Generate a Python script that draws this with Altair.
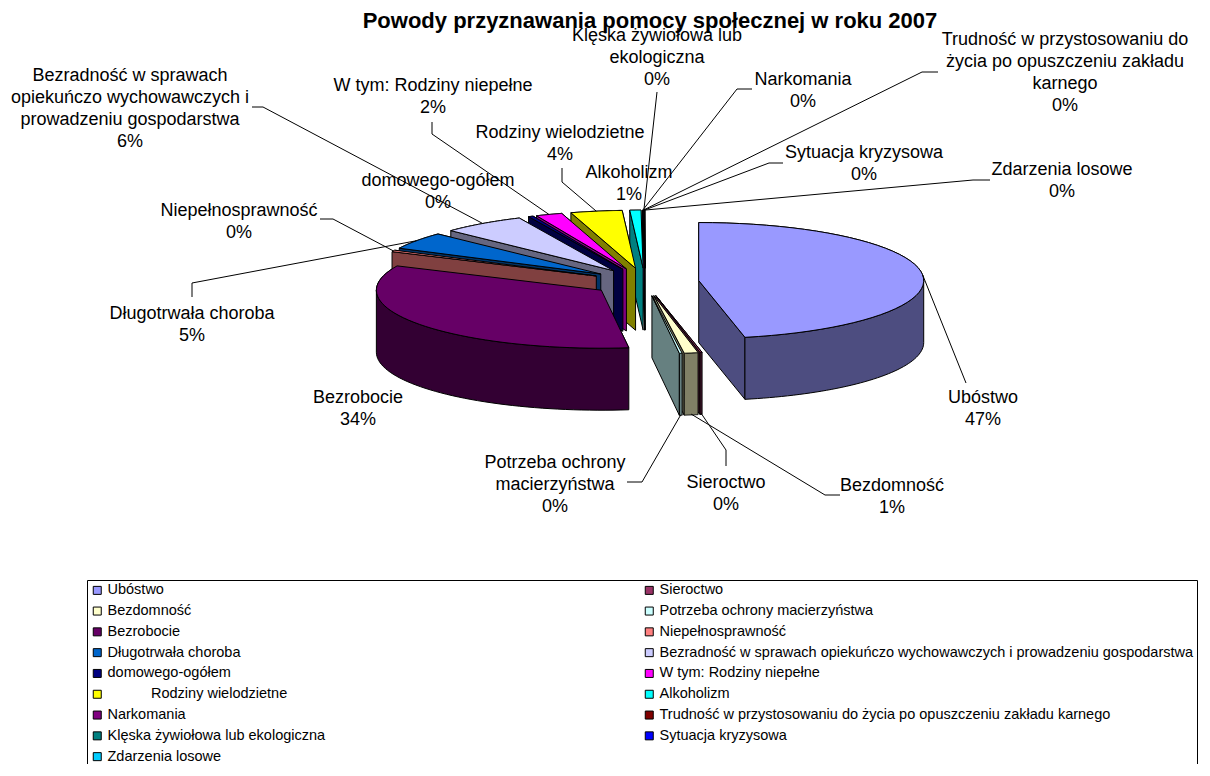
import math
import altair as alt
import pandas as pd

ZW = "\u200b"
EM = "\u2003"

# ---------------- data ----------------
names = [
    "Ubóstwo",
    "Sieroctwo",
    "Bezdomność",
    "Potrzeba ochrony macierzyństwa",
    "Bezrobocie",
    "Niepełnosprawność",
    "Długotrwała choroba",
    "Bezradność w sprawach opiekuńczo wychowawczych i prowadzeniu gospodarstwa",
    "domowego-ogółem",
    "W tym: Rodziny niepełne",
    ZW + EM * 3 + "Rodziny wielodzietne",
    "Alkoholizm",
    "Narkomania",
    "Trudność w przystosowaniu do życia po opuszczeniu zakładu karnego",
    "Klęska żywiołowa lub ekologiczna",
    "Sytuacja kryzysowa",
    "Zdarzenia losowe",
]
values = [46.8, 0.15, 1.0, 0.2, 33.9, 0.45, 4.8, 6.0, 0.35, 1.9, 3.7, 0.8,
          0.05, 0.02, 0.03, 0.02, 0.03]
label_lines = [
    "Ubóstwo",
    "Sieroctwo",
    "Bezdomność",
    "Potrzeba ochrony|macierzyństwa",
    "Bezrobocie",
    "Niepełnosprawność",
    "Długotrwała choroba",
    "Bezradność w sprawach|opiekuńczo wychowawczych i|prowadzeniu gospodarstwa",
    "domowego-ogółem",
    "W tym: Rodziny niepełne",
    "Rodziny wielodzietne",
    "Alkoholizm",
    "Narkomania",
    "Trudność w przystosowaniu do|życia po opuszczeniu zakładu|karnego",
    "Klęska żywiołowa lub|ekologiczna",
    "Sytuacja kryzysowa",
    "Zdarzenia losowe",
]
top_colors = ["#9999FF", "#993366", "#FFFFCC", "#CCFFFF", "#660066", "#FF8080",
              "#0066CC", "#CCCCFF", "#000080", "#FF00FF", "#FFFF00", "#00FFFF",
              "#800080", "#800000", "#008080", "#0000FF", "#00CCFF"]
side_colors = ["#4D4D80", "#4D1A33", "#808066", "#668080", "#330033", "#804040",
               "#003366", "#666680", "#000040", "#800080", "#808000", "#008080",
               "#400040", "#400000", "#004040", "#000080", "#006680"]
title_text = "Powody przyznawania pomocy społecznej w roku 2007"

# ---------------- layout (pixel space of the page) ----------------
W, H = 1194, 756
CX, CY = 645, 282          # pie centre (top face)
RX, RY = 225, 58           # ellipse radii of the tilted pie
D = 62                     # pie thickness
EXPL = 0.24                # explosion (fraction of radius)
N = 48                     # arc resolution
FONT = "Liberation Sans"
LH = 22                    # label line height

# label block centre, leader elbow, leader end (None = no leader)
label_layout = [
    ((983, 409), (966, 383), (966, 383)),
    ((726, 494), (726, 450), (726, 466)),
    ((892, 497), (825, 495), (840, 495)),
    ((555, 485), (642, 482), (627, 482)),
    ((358, 409), None, None),
    ((239, 222), (333, 219), (320, 219)),
    ((192, 325), (192, 283), (192, 297)),
    ((130, 109), (263, 107), (252, 107)),
    ((438, 192), None, None),
    ((433, 97), (432, 134), (432, 122)),
    ((560, 144), (562, 182), (562, 168)),
    ((629, 184), None, None),
    ((803, 91), (737, 89), (752, 89)),
    ((1065, 73), (922, 72), (938, 72)),
    ((657, 58), (657, 92), (657, 92)),
    ((864, 164), (769, 163), (783, 163)),
    ((1062, 181), (973, 180), (990, 180)),
]

rows = []
for k, (n, v, ll, tc, sc, lay) in enumerate(
        zip(names, values, label_lines, top_colors, side_colors, label_layout)):
    (lx, ly), el, en = lay
    rows.append(dict(k=k, name=n, value=v, lines=ll, top=tc, side=sc,
                     lx=lx, ly=ly,
                     ex=el[0] if el else 0, ey=el[1] if el else 0,
                     tx=en[0] if en else 0, ty=en[1] if en else 0,
                     lead=1 if el else 0))
df = pd.DataFrame(rows)

# painter's order: slices further back (towards 12 o'clock) are drawn first
_tot, _cum, _mid = sum(values), 0.0, []
for v in values:
    _mid.append(2 * math.pi * (_cum + v / 2) / _tot)
    _cum += v
draw_order = sorted(range(len(values)), key=lambda i: -math.cos(_mid[i]))

X = alt.X("x:Q", scale=alt.Scale(domain=[8, 8 + W], nice=False, zero=False), axis=None)
Y = alt.Y("y:Q", scale=alt.Scale(domain=[8, 8 + H], nice=False, zero=False, reverse=True), axis=None)


def geom():
    return (
        alt.Chart(df)
        .transform_window(cum="sum(value)", sort=[alt.SortField("k", order="ascending")],
                          frame=[None, 0])
        .transform_joinaggregate(total="sum(value)")
        .transform_calculate(a0="2*PI*(datum.cum-datum.value)/datum.total")
        .transform_calculate(a1="2*PI*datum.cum/datum.total")
        .transform_calculate(am="(datum.a0+datum.a1)/2")
        .transform_calculate(cx=f"{CX}+{EXPL * RX}*sin(datum.am)")
        .transform_calculate(cy=f"{CY}-{EXPL * RY}*cos(datum.am)")
    )


poly = dict(stroke="black", strokeWidth=1, strokeJoin="round")
SIDE_FILL = alt.Fill("side:N", scale=None, legend=None)
TOP_FILL = alt.Fill("top:N", scale=None, legend=None)


def faces(k):
    return (
        geom().transform_filter(f"datum.k == {k}")
        .transform_calculate(fc="[0,1]")
        .transform_flatten(["fc"], as_=["face"])
        .transform_calculate(a="datum.face==0 ? datum.a0 : datum.a1")
        .transform_filter("(datum.face==0 && sin(datum.a) < -1e-6) || (datum.face==1 && sin(datum.a) > 1e-6)")
        .transform_calculate(key="datum.name + '_' + datum.face")
        .transform_calculate(pts="sequence(0,5)")
        .transform_flatten(["pts"], as_=["i"])
        .transform_calculate(r="(datum.i==1||datum.i==2)?1:0")
        .transform_calculate(dz=f"(datum.i==2||datum.i==3)?{D}:0")
        .transform_calculate(x=f"datum.cx+datum.r*{RX}*sin(datum.a)")
        .transform_calculate(y=f"datum.cy-datum.r*{RY}*cos(datum.a)+datum.dz")
        .mark_line(**poly)
        .encode(x=X, y=Y, order="i:Q", detail="key:N", fill=SIDE_FILL)
    )


def sides(k):
    return (
        geom().transform_filter(f"datum.k == {k}")
        .transform_calculate(b0="max(datum.a0, PI/2)")
        .transform_calculate(b1="min(datum.a1, 3*PI/2)")
        .transform_filter("datum.b1 > datum.b0")
        .transform_calculate(pts=f"sequence(0,{2 * N + 3})")
        .transform_flatten(["pts"], as_=["i"])
        .transform_calculate(
            ang=f"datum.i<={N} ? datum.b0+(datum.b1-datum.b0)*datum.i/{N} : "
                f"(datum.i<={2 * N + 1} ? datum.b1-(datum.b1-datum.b0)*(datum.i-{N + 1})/{N} : datum.b0)")
        .transform_calculate(dz=f"(datum.i>{N} && datum.i<={2 * N + 1}) ? {D} : 0")
        .transform_calculate(x=f"datum.cx+{RX}*sin(datum.ang)")
        .transform_calculate(y=f"datum.cy-{RY}*cos(datum.ang)+datum.dz")
        .mark_line(**poly)
        .encode(x=X, y=Y, order="i:Q", detail="name:N", fill=SIDE_FILL)
    )


def tops(k=None, fill=TOP_FILL):
    ch = geom()
    if k is not None:
        ch = ch.transform_filter(f"datum.k == {k}")
    return (
        ch.transform_calculate(pts=f"sequence(0,{N + 3})")
        .transform_flatten(["pts"], as_=["i"])
        .transform_calculate(f=f"clamp((datum.i-1)/{N},0,1)")
        .transform_calculate(r=f"(datum.i==0||datum.i=={N + 2})?0:1")
        .transform_calculate(ang="datum.a0+(datum.a1-datum.a0)*datum.f")
        .transform_calculate(x=f"datum.cx+datum.r*{RX}*sin(datum.ang)")
        .transform_calculate(y=f"datum.cy-datum.r*{RY}*cos(datum.ang)")
        .mark_line(**poly)
        .encode(x=X, y=Y, order="i:Q", detail="name:N", fill=fill)
    )


legend = alt.Legend(
    title=None, orient="none", legendX=79, legendY=572, columns=2, direction="horizontal",
    columnPadding=316, rowPadding=5.8, symbolType="square", symbolSize=64,
    symbolStrokeColor="black", symbolStrokeWidth=1, symbolOffset=0,
    labelFont=FONT, labelFontSize=14.5, labelColor="black", labelLimit=1000,
    labelOffset=3, padding=3, strokeColor="black", fillColor="white",
)

# base layer carrying the legend (completely repainted by the slices above it)
legend_layer = tops(None, alt.Fill("name:N", scale=alt.Scale(domain=names, range=top_colors),
                                   legend=legend))

slice_layers = []
for k in draw_order:
    slice_layers += [faces(k), sides(k), tops(k)]

# leader lines
leaders = (
    geom()
    .transform_filter("datum.lead == 1")
    .transform_calculate(sx=f"datum.cx+{RX}*sin(datum.am)")
    .transform_calculate(sy=f"datum.cy-{RY}*cos(datum.am)+{D}*max(0,-cos(datum.am))")
    .transform_calculate(pts="sequence(0,3)")
    .transform_flatten(["pts"], as_=["i"])
    .transform_calculate(x="datum.i==0 ? datum.sx : (datum.i==1 ? datum.ex : datum.tx)")
    .transform_calculate(y="datum.i==0 ? datum.sy : (datum.i==1 ? datum.ey : datum.ty)")
    .mark_line(color="black", strokeWidth=1)
    .encode(x=X, y=Y, order="i:Q", detail="name:N")
)

# data labels (block centred on the layout point)
labels = (
    geom()
    .transform_calculate(
        txt="datum.lines + '|' + format(round(100*datum.value/datum.total), 'd') + '%'")
    .transform_calculate(nl="split(datum.txt, '|').length")
    .transform_calculate(x="datum.lx", y=f"datum.ly - (datum.nl-1)*{LH / 2}")
    .mark_text(font=FONT, fontSize=18, lineHeight=LH, align="center", baseline="middle",
               lineBreak="|", color="black")
    .encode(x=X, y=Y, text="txt:N")
)

title = (
    alt.Chart(pd.DataFrame({"t": [title_text]}))
    .mark_text(font=FONT, fontSize=22, fontWeight="bold", align="center",
               baseline="alphabetic", color="black")
    .encode(text="t:N", x=alt.value(650 - 8), y=alt.value(27.5 - 8))
)

chart = (
    alt.layer(legend_layer, *slice_layers, leaders, labels, title)
    .resolve_scale(fill="independent")
    .properties(width=W, height=H, padding=0,
                autosize=alt.AutoSizeParams(type="none"))
    .configure_view(stroke=None)
)

chart.save("out.html", embed_options={"renderer": "svg", "actions": False})
